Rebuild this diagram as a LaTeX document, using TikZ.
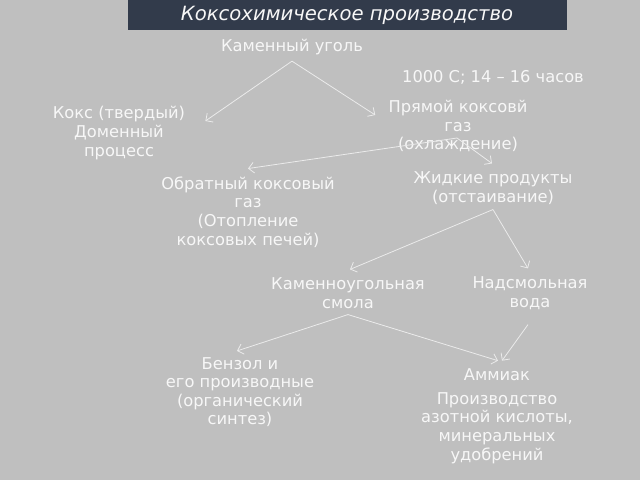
\documentclass[tikz,border=0pt]{standalone}
\usepackage{fontspec}
\setmainfont{DejaVu Sans}
\usetikzlibrary{arrows.meta}
\definecolor{bg}{HTML}{BFBFBF}
\definecolor{bar}{HTML}{323B4B}
\definecolor{ink}{HTML}{F7F7F7}
\definecolor{wire}{HTML}{EBEBEB}
\tikzset{
  lbl/.style={text=ink, align=center, inner sep=0pt, font=\fontsize{12.2}{13.9}\selectfont},
  link/.style={draw=wire, line width=0.6pt, -{Straight Barb[length=4pt,width=8pt]}}
}
\begin{document}
\begin{tikzpicture}[x=0.75pt,y=-0.75pt]
      \fill[bg] (0,0) rectangle (640,480);
      \useasboundingbox (0,0) rectangle (640,480);
      \fill[bar] (128,0) rectangle (567,30);
      \node[text=ink, inner sep=0pt, font=\fontsize{14.7}{18}\selectfont\itshape] (title) at (347,15) {Коксохимическое производство};
      \node[lbl] (coal) at (292,47) {Каменный уголь};
      \node[lbl] (temp) at (493,77) {1000 С; 14 – 16 часов};
      \node[lbl] (coke) at (119,133) {Кокс (твердый)\\Доменный\\процесс};
      \node[lbl] (directgas) at (458,126) {Прямой коксовй\\газ\\(охлаждение)};
      \node[lbl] (reversegas) at (248,212) {Обратный коксовый\\газ\\(Отопление\\коксовых печей)};
      \node[lbl] (liquid) at (493,188) {Жидкие продукты\\(отстаивание)};
      \node[lbl] (tar) at (348,293) {Каменноугольная\\смола};
      \node[lbl] (water) at (530,293) {Надсмольная\\вода};
      \node[lbl] (benzene) at (240,392) {Бензол и\\его производные\\(органический\\синтез)};
      \node[lbl] (ammonia) at (497,375) {Аммиак};
      \node[lbl] (nitric) at (497,428) {Производство\\азотной кислоты,\\минеральных\\удобрений};
      % arrows
      \draw[link] ([shift={(0,6)}]coal.south) -- ([shift={(20,-12)}]coke.east);
      \draw[link] ([shift={(0,6)}]coal.south) -- ([shift={(-13,-11)}]directgas.west);
      \draw[link] ([shift={(-1,12)}]directgas.center) -- ([shift={(0,-8)}]reversegas.north);
      \draw[link] ([shift={(-1,12)}]directgas.center) -- ([shift={(-1,-8)}]liquid.north);
      \draw[link] ([shift={(0,5)}]liquid.south) -- ([shift={(2,-8)}]tar.north);
      \draw[link] ([shift={(0,5)}]liquid.south) -- ([shift={(-2,-8)}]water.north);
      \draw[link] ([shift={(0,6)}]tar.south) -- ([shift={(-3,-6)}]benzene.north);
      \draw[link] ([shift={(0,6)}]tar.south) -- ([shift={(1,-8)}]ammonia.north);
      \draw[link] ([shift={(-2,15)}]water.south) -- ([shift={(5,-8)}]ammonia.north);
\end{tikzpicture}
\end{document}
